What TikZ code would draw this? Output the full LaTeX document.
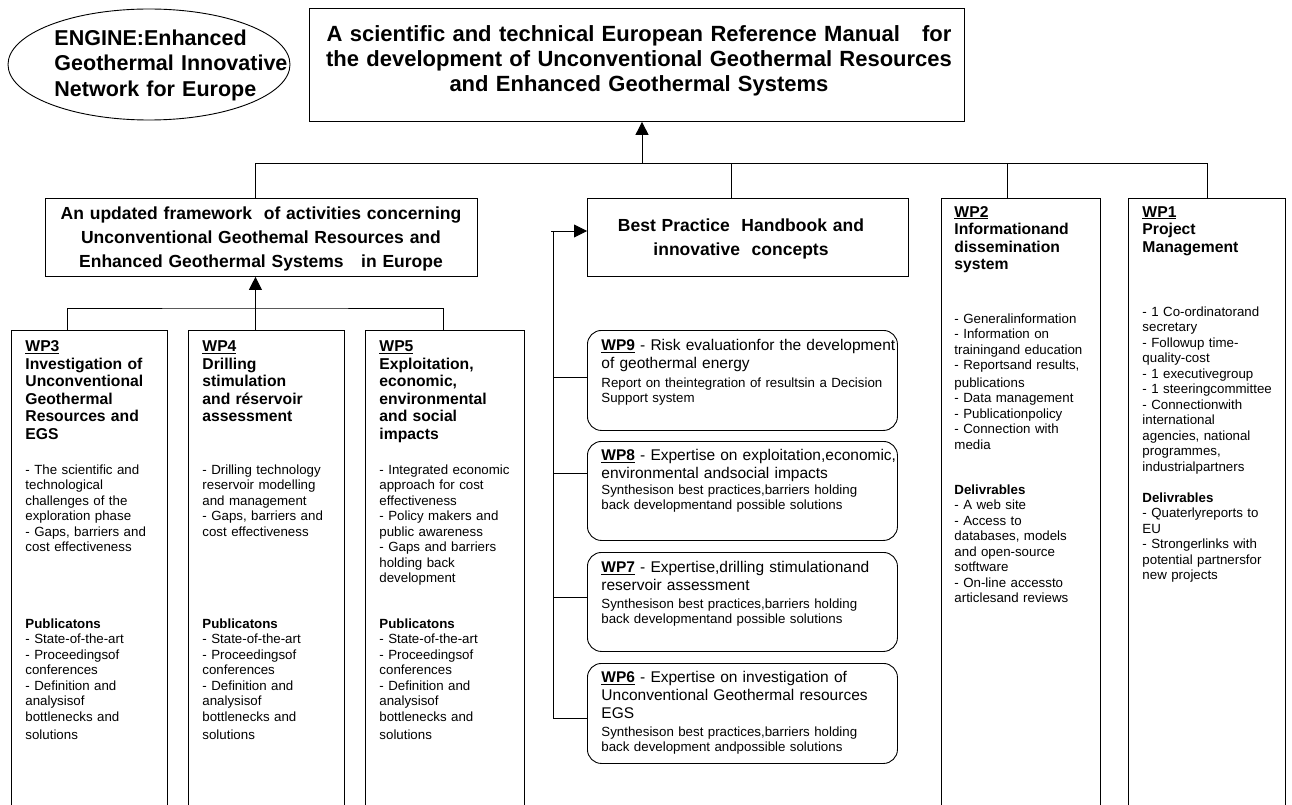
\documentclass[tikz,border=0pt]{standalone}
\usepackage{fontspec}
\setmainfont{Liberation Sans}
\usepackage{tikz}
\usetikzlibrary{arrows.meta,shapes.geometric,positioning,calc}

\newcommand\titelschrift{\fontsize{22}{25}\selectfont\bfseries}
\newcommand\ellschrift{\fontsize{21.5}{25.5}\selectfont\bfseries}
\newcommand\kastenschrift{\fontsize{17.5}{24}\selectfont\bfseries}
\newcommand\wptitel{\fontsize{15.7}{17.5}\selectfont\bfseries}
\newcommand\wptext{\fontsize{13.3}{15.5}\selectfont}
\newcommand\wpkopf{\fontsize{15.5}{18}\selectfont}
\newcommand\wpunter{\fontsize{13.3}{15}\selectfont}

\begin{document}
\begin{tikzpicture}[x=1pt,y=1pt,line width=0.9pt,
  kasten/.style={draw,inner sep=0pt,anchor=north west},
  wpbox/.style={kasten,rounded corners=14pt,minimum width=310pt,minimum height=100pt},
  txt/.style={inner sep=0pt,anchor=base west,text width=200pt,align=left},
  ctxt/.style={inner sep=0pt,anchor=base,align=center,text width=#1},
  pfeil/.style={-{Triangle[length=13pt,width=13pt]}}]
%Koordinaten in Pixeln des Bildes, y nach unten negativ
\useasboundingbox (0,0) rectangle (1292,-805);
%Kopf
\node[draw,ellipse,inner sep=0pt,minimum width=282pt,minimum height=111pt] (engine) at (149,-64.5) {};
\node[txt,font=\ellschrift,text width=250pt] (enginetxt) at (54,-45.5) {ENGINE:Enhanced\\Geothermal Innovative\\Network for Europe};
\node[kasten,minimum width=655pt,minimum height=113pt] (manual) at (309,-8) {};
\node[ctxt=640pt,font=\titelschrift] (manualtxt) at (639,-42) {A scientific and technical European Reference Manual\ \ \ for\\the development of Unconventional Geothermal Resources\\and Enhanced Geothermal Systems};
%zweite Ebene
\node[kasten,minimum width=432pt,minimum height=78pt] (frame) at (45,-198) {};
\node[ctxt=430pt,font=\kastenschrift] (frametxt) at (261,-219) {An updated framework\ \ of activities concerning\\Unconventional Geothemal Resources and\\Enhanced Geothermal Systems\ \ \ in Europe};
\node[kasten,minimum width=321pt,minimum height=78pt] (bp) at (587,-198) {};
\node[ctxt=310pt,font=\kastenschrift] (bptxt) at (741,-231) {Best Practice\ \ Handbook and\\innovative\ \ concepts};
\node[kasten,minimum width=159pt,minimum height=614pt] (wp2) at (941,-198) {};
\node[kasten,minimum width=157pt,minimum height=614pt] (wp1) at (1128,-198) {};
%Spalten WP3 bis WP5
\node[kasten,minimum width=156.5pt,minimum height=482pt] (wp3) at (10.5,-330) {};
\node[kasten,minimum width=156pt,minimum height=482pt] (wp4) at (188,-330) {};
\node[kasten,minimum width=159pt,minimum height=482pt] (wp5) at (365,-330) {};
%Arbeitspakete des Handbuchs
\node[wpbox] (wp9) at (587,-330) {};
\node[wpbox,minimum height=99pt] (wp8) at (587,-441) {};
\node[wpbox,minimum height=99pt] (wp7) at (587,-552) {};
\node[wpbox] (wp6) at (587,-663) {};

%Verbindungen
\coordinate (bus) at (642,-163);
\coordinate (sub) at (255,-308);
\coordinate (spine) at (553,-231);
\draw[pfeil] (bus) -- (bus |- manual.south);
\draw ([xshift=-6pt]frame.north) |- ([xshift=0.5pt]wp1.north |- bus) -- ([xshift=0.5pt]wp1.north);
\draw ([xshift=-17pt]bp.north) -- ([xshift=-17pt]bp.north |- bus);
\draw ([xshift=-14pt]wp2.north) -- ([xshift=-14pt]wp2.north |- bus);
\draw[pfeil] ([xshift=-11pt]wp4.north) -- ([xshift=-11pt]wp4.north |- frame.south);
\draw ([xshift=-21.5pt]wp3.north) |- (sub) -| ([xshift=-1.5pt]wp5.north);
\draw[pfeil] ([xshift=-2pt]spine) -- (spine -| bp.west);
\draw (spine) |- ([yshift=-5pt]wp6.west);
\draw (spine |- wp9.west) ++(0,3.5) -- ([yshift=3.5pt]wp9.west);
\draw ([yshift=17.5pt]wp8.west) -- ([yshift=17.5pt]wp8.west -| spine);
\draw ([yshift=4.5pt]wp7.west) -- ([yshift=4.5pt]wp7.west -| spine);

%Texte der Spalten
\node[txt,font=\wptitel] (wp3titel) at (25,-351.5) {\underline{WP3}\\Investigation of\\Unconventional\\Geothermal\\Resources and\\EGS};
\node[txt,font=\wptext] (wp3text) at (25,-474) {- The scientific and\\technological\\challenges of the\\exploration phase\\- Gaps, barriers and\\cost effectiveness};
\node[txt,font=\wptext] (wp3pub) at (25,-628) {\textbf{Publicatons}\\- State-of-the-art\\- Proceedingsof\\conferences\\- Definition and\\analysisof\\bottlenecks and\\[3pt]solutions};
\node[txt,font=\wptitel] (wp4titel) at (202,-351.5) {\underline{WP4}\\Drilling\\stimulation\\and réservoir\\assessment};
\node[txt,font=\wptext] (wp4text) at (202,-474) {- Drilling technology\\reservoir modelling\\and management\\- Gaps, barriers and\\cost effectiveness};
\node[txt,font=\wptext] (wp4pub) at (202,-628) {\textbf{Publicatons}\\- State-of-the-art\\- Proceedingsof\\conferences\\- Definition and\\analysisof\\bottlenecks and\\[3pt]solutions};
\node[txt,font=\wptitel] (wp5titel) at (379,-351.5) {\underline{WP5}\\Exploitation,\\economic,\\environmental\\and social\\impacts};
\node[txt,font=\wptext] (wp5text) at (379,-474) {- Integrated economic\\approach for cost\\effectiveness\\- Policy makers and\\public awareness\\- Gaps and barriers\\holding back\\development};
\node[txt,font=\wptext] (wp5pub) at (379,-628) {\textbf{Publicatons}\\- State-of-the-art\\- Proceedingsof\\conferences\\- Definition and\\analysisof\\bottlenecks and\\[3pt]solutions};

\node[txt,font=\wptitel] (wp2titel) at (954,-217) {\underline{WP2}\\Informationand\\dissemination\\system};
\node[txt,font=\wptext] (wp2text) at (954,-323) {- Generalinformation\\- Information on\\trainingand education\\- Reportsand results,\\[2pt]publications\\- Data management\\- Publicationpolicy\\- Connection with\\media};
\node[txt,font=\wptext] (wp2del) at (954,-494) {\textbf{Delivrables}\\- A web site\\- Access to\\databases, models\\and open-source\\sotftware\\- On-line accessto\\articlesand reviews};
\node[txt,font=\wptitel] (wp1titel) at (1142,-217) {\underline{WP1}\\Project\\Management};
\node[txt,font=\wptext] (wp1text) at (1142,-316) {- 1 Co-ordinatorand\\secretary\\- Followup time-\\quality-cost\\- 1 executivegroup\\- 1 steeringcommittee\\- Connectionwith\\international\\agencies, national\\programmes,\\industrialpartners};
\node[txt,font=\wptext] (wp1del) at (1142,-502) {\textbf{Delivrables}\\- Quaterlyreports to\\EU\\- Strongerlinks with\\potential partnersfor\\new projects};

%Texte im Handbuch
\node[txt,font=\wpkopf,text width=300pt] (wp9kopf) at (601,-350.5) {\underline{\textbf{WP9}} - Risk evaluationfor the development\\of geothermal energy};
\node[txt,font=\wpunter,text width=300pt] (wp9unter) at (601,-387) {Report on theintegration of resultsin a Decision\\Support system};
\node[txt,font=\wpkopf,text width=300pt] (wp8kopf) at (601,-460.5) {\underline{\textbf{WP8}} - Expertise on exploitation,economic,\\environmental andsocial impacts};
\node[txt,font=\wpunter,text width=300pt] (wp8unter) at (601,-494) {Synthesison best practices,barriers holding\\back developmentand possible solutions};
\node[txt,font=\wpkopf,text width=300pt] (wp7kopf) at (601,-572.5) {\underline{\textbf{WP7}} - Expertise,drilling stimulationand\\reservoir assessment};
\node[txt,font=\wpunter,text width=300pt] (wp7unter) at (601,-608) {Synthesison best practices,barriers holding\\back developmentand possible solutions};
\node[txt,font=\wpkopf,text width=300pt] (wp6kopf) at (601,-682.5) {\underline{\textbf{WP6}} - Expertise on investigation of\\Unconventional Geothermal resources\\EGS};
\node[txt,font=\wpunter,text width=300pt] (wp6unter) at (601,-736) {Synthesison best practices,barriers holding\\back development andpossible solutions};
\end{tikzpicture}
\end{document}
